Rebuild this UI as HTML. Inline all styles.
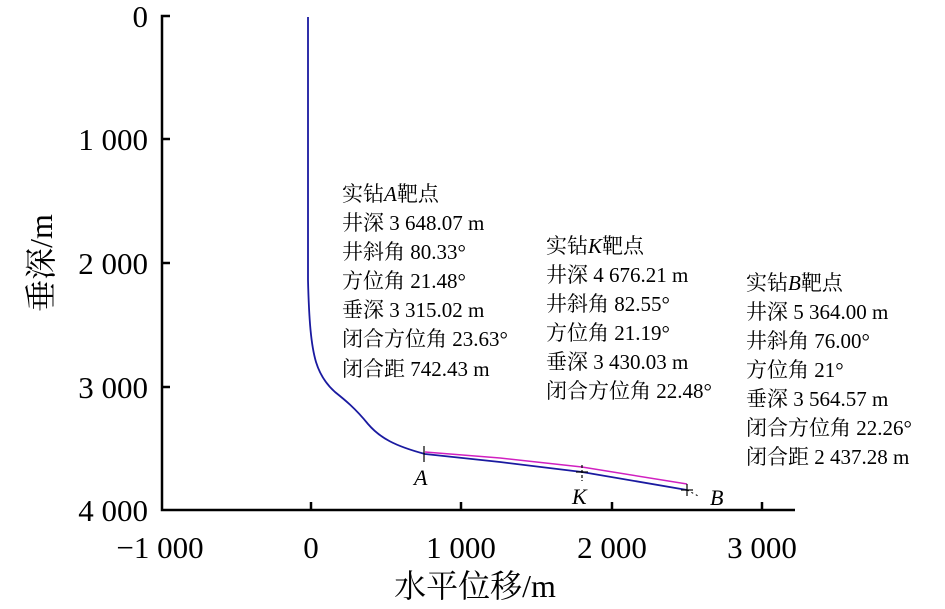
<!DOCTYPE html>
<html><head><meta charset="utf-8"><style>
html,body{margin:0;padding:0;background:#fff;}
svg{display:block;}
text{font-family:"Liberation Serif","Noto Serif CJK SC",serif;fill:#000;}
.t{font-size:31px;}
.a{font-size:21px;}
</style></head><body>
<svg width="945" height="609" viewBox="0 0 945 609">
<g stroke="#000" stroke-width="2.5" fill="none">
<polyline points="170,16 162,16 162,510 795,510"/>
<line x1="162" y1="139" x2="170" y2="139"/>
<line x1="162" y1="263" x2="170" y2="263"/>
<line x1="162" y1="387" x2="170" y2="387"/>
<line x1="311" y1="510" x2="311" y2="502"/>
<line x1="461" y1="510" x2="461" y2="502"/>
<line x1="612" y1="510" x2="612" y2="502"/>
<line x1="762" y1="510" x2="762" y2="502"/>
</g>
<g class="t" text-anchor="end">
<text x="148" y="27">0</text>
<text x="148" y="150">1 000</text>
<text x="148" y="274">2 000</text>
<text x="148" y="398">3 000</text>
<text x="148" y="521">4 000</text>
</g>
<g class="t" text-anchor="middle">
<text x="160" y="558">−1 000</text>
<text x="311" y="558">0</text>
<text x="461" y="558">1 000</text>
<text x="612" y="558">2 000</text>
<text x="762" y="558">3 000</text>
<text x="475" y="597" font-size="32">水平位移/m</text>
<text transform="translate(52,263) rotate(-90)" font-size="32">垂深/m</text>
</g>
<path fill="none" stroke="#d020c0" stroke-width="1.5" d="M425,452 L500,458 L582,467 L687,484"/>
<path fill="none" stroke="#1a1aa0" stroke-width="1.8" d="M308,17 L308,280 C309,320 311,345 316,362 C320,375 326,384 335,392 C345,400 355,408 368,424 C380,438 395,446 425,454 L500,462 L582,472 L687,490"/>
<line x1="687" y1="490" x2="700" y2="497" stroke="#000" stroke-dasharray="2,3"/>
<g stroke="#000" stroke-width="1.2">
<line x1="424" y1="446" x2="424" y2="462"/>
<line x1="582" y1="465" x2="582" y2="481" stroke-dasharray="3,2"/>
<line x1="576" y1="472" x2="588" y2="472"/>
<line x1="687" y1="484" x2="687" y2="496"/>
<line x1="681" y1="490" x2="693" y2="490"/>
</g>
<g font-style="italic" font-size="22">
<text x="414" y="485">A</text>
<text x="572" y="504">K</text>
<text x="710" y="505">B</text>
</g>
<g class="a">
<text x="342" y="201">实钻<tspan font-style="italic">A</tspan>靶点</text>
<text x="342" y="230">井深 3 648.07 m</text>
<text x="342" y="259">井斜角 80.33°</text>
<text x="342" y="288">方位角 21.48°</text>
<text x="342" y="317">垂深 3 315.02 m</text>
<text x="342" y="346">闭合方位角 23.63°</text>
<text x="342" y="376">闭合距 742.43 m</text>
<text x="546" y="253">实钻<tspan font-style="italic">K</tspan>靶点</text>
<text x="546" y="282">井深 4 676.21 m</text>
<text x="546" y="311">井斜角 82.55°</text>
<text x="546" y="340">方位角 21.19°</text>
<text x="546" y="369">垂深 3 430.03 m</text>
<text x="546" y="398">闭合方位角 22.48°</text>
<text x="746" y="290">实钻<tspan font-style="italic">B</tspan>靶点</text>
<text x="746" y="319">井深 5 364.00 m</text>
<text x="746" y="348">井斜角 76.00°</text>
<text x="746" y="377">方位角 21°</text>
<text x="746" y="406">垂深 3 564.57 m</text>
<text x="746" y="435">闭合方位角 22.26°</text>
<text x="746" y="464">闭合距 2 437.28 m</text>
</g>
</svg>
</body></html>
